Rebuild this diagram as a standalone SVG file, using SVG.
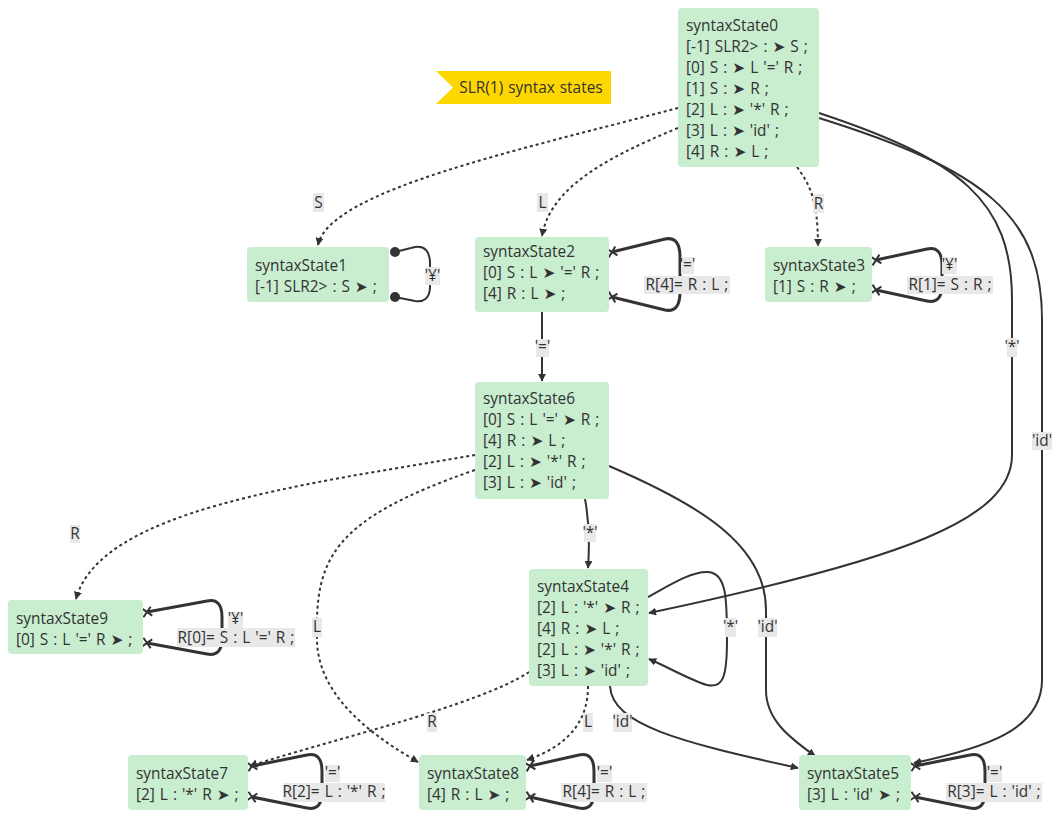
<svg xmlns="http://www.w3.org/2000/svg" width="1059" height="819" viewBox="0 0 1059 819">
<style>
text{font-family:"Open Sans","Noto Sans","DejaVu Sans",sans-serif;font-size:15.4px;word-spacing:1px;fill:#333}
.node rect{fill:#c8edcf;stroke:none}
.e{fill:none;stroke:#333;stroke-width:2}
.d{fill:none;stroke:#333;stroke-width:2;stroke-dasharray:3 3}
.loop{fill:none;stroke:#333;stroke-width:3}
.lb{fill:#e8e8e8}
.lt{text-anchor:middle}
</style>
<defs>
<marker id="arrow" viewBox="0 0 10 10" refX="9" refY="5" markerWidth="8" markerHeight="8" markerUnits="userSpaceOnUse" orient="auto"><path d="M0,0 L10,5 L0,10 z" fill="#333"/></marker>
<marker id="cross" viewBox="0 0 11 11" refX="5.5" refY="5.5" markerWidth="11" markerHeight="11" markerUnits="userSpaceOnUse" orient="auto"><path d="M1,1 L10,10 M10,1 L1,10" stroke="#333" stroke-width="2" fill="none"/></marker>
</defs>
<rect width="1059" height="819" fill="#fff"/>

<g id="title">
<polygon points="436,71 611,71 611,104 436,104 453,87.5" fill="#ffd700"/>
<text x="531" y="93" class="lt">SLR(1) syntax states</text>
</g>

<g id="connectors">
<path class="d" d="M678,108 C520,150 330,190 318,245" marker-end="url(#arrow)"/>
<path class="d" d="M678,128 C600,160 550,190 542,236" marker-end="url(#arrow)"/>
<path class="d" d="M797,167 C810,185 818,200 818,246" marker-end="url(#arrow)"/>
<path class="e" d="M819,113 C960,160 1012,200 1012,300 L1012,455 C1012,520 900,560 649,613" marker-end="url(#arrow)"/>
<path class="e" d="M819,118 C985,170 1042,215 1042,320 L1042,680 C1042,730 985,748 914,763" marker-end="url(#arrow)"/>
<path class="e" d="M542,312 L542,381" marker-end="url(#arrow)"/>
<path class="e" d="M585,499 C589,520 590,540 588,568" marker-end="url(#arrow)"/>
<path class="e" d="M609,466 C700,505 766,545 766,610 L766,690 C766,720 790,738 815,756" marker-end="url(#arrow)"/>
<path class="e" d="M610,686 C612,725 680,742 798,768" marker-end="url(#arrow)"/>
<path class="e" d="M648,597 C670,585 690,572 707,572 C727,572 727,600 727,640 C727,680 722,688 707,685 C690,680 670,668 649,659" marker-end="url(#arrow)"/>
<path class="d" d="M475,455 C300,485 100,510 76,599" marker-end="url(#arrow)"/>
<path class="d" d="M475,470 C330,520 315,560 317,640 C318,700 380,740 418,762" marker-end="url(#arrow)"/>
<path class="d" d="M529,672 C480,705 330,740 250,766" marker-end="url(#arrow)"/>
<path class="d" d="M588,686 C588,720 570,745 527,760" marker-end="url(#arrow)"/>
<path class="loop" style="stroke-width:2" d="M395,252 L415,247 Q429,245 430,262 L430,288 Q429,303 415,301 L395,297"/>
<circle cx="395" cy="252" r="5" fill="#333"/>
<circle cx="395" cy="297" r="5" fill="#333"/>
<path class="loop" d="M612,252 L665,239 Q680,236 680,257 L680,292 Q680,313 665,310 L612,297" marker-start="url(#cross)" marker-end="url(#cross)"/>
<path class="loop" d="M876,260 L927,249 Q942,246 942,265 L942,285 Q942,304 927,301 L876,290" marker-start="url(#cross)" marker-end="url(#cross)"/>
<path class="loop" d="M147,612 L207,601 Q222,598 222,617 L222,638 Q222,657 207,654 L147,643" marker-start="url(#cross)" marker-end="url(#cross)"/>
<path class="loop" d="M252,766 L307,755 Q322,752 322,771 L322,792 Q322,811 307,808 L252,797" marker-start="url(#cross)" marker-end="url(#cross)"/>
<path class="loop" d="M530,766 L579,755 Q594,752 594,771 L594,792 Q594,811 579,808 L530,797" marker-start="url(#cross)" marker-end="url(#cross)"/>
<path class="loop" d="M915,766 L970,755 Q985,752 985,771 L985,792 Q985,811 970,808 L915,797" marker-start="url(#cross)" marker-end="url(#cross)"/>
</g>

<g id="edge-labels">
<rect class="lb" x="313" y="193" width="11" height="19"/><text class="lt" x="318.5" y="208">S</text>
<rect class="lb" x="537" y="193" width="11" height="19"/><text class="lt" x="542.5" y="208">L</text>
<rect class="lb" x="813" y="194" width="11" height="19"/><text class="lt" x="818.5" y="209">R</text>
<rect class="lb" x="425" y="267" width="15" height="18"/><text class="lt" x="432.5" y="281">'¥'</text>
<rect class="lb" x="681" y="257" width="13" height="17"/><text class="lt" x="687.5" y="270">'='</text>
<rect class="lb" x="644" y="276" width="86" height="18"/><text class="lt" x="687" y="290">R[4]= R : L ;</text>
<rect class="lb" x="942" y="257" width="15" height="17"/><text class="lt" x="949.5" y="270">'¥'</text>
<rect class="lb" x="907" y="276" width="86" height="18"/><text class="lt" x="950" y="290">R[1]= S : R ;</text>
<rect class="lb" x="536" y="339" width="13" height="18"/><text class="lt" x="542.5" y="352">'='</text>
<rect class="lb" x="1007" y="338" width="10" height="19"/><text class="lt" x="1012" y="352">'*'</text>
<rect class="lb" x="1032" y="432" width="20" height="18"/><text class="lt" x="1042" y="446">'id'</text>
<rect class="lb" x="70" y="525" width="10" height="18"/><text class="lt" x="75" y="539">R</text>
<rect class="lb" x="584" y="524" width="12" height="18"/><text class="lt" x="590" y="538">'*'</text>
<rect class="lb" x="312" y="618" width="10" height="19"/><text class="lt" x="317" y="632">L</text>
<rect class="lb" x="725" y="618" width="11" height="19"/><text class="lt" x="730.5" y="632">'*'</text>
<rect class="lb" x="758" y="618" width="19" height="19"/><text class="lt" x="767.5" y="632">'id'</text>
<rect class="lb" x="228" y="612" width="15" height="16"/><text class="lt" x="235.5" y="624">'¥'</text>
<rect class="lb" x="177" y="628" width="118" height="19"/><text class="lt" x="236" y="643">R[0]= S : L '=' R ;</text>
<rect class="lb" x="427" y="713" width="10" height="19"/><text class="lt" x="432" y="727">R</text>
<rect class="lb" x="583" y="713" width="10" height="19"/><text class="lt" x="588" y="727">L</text>
<rect class="lb" x="613" y="713" width="19" height="19"/><text class="lt" x="622.5" y="727">'id'</text>
<rect class="lb" x="325" y="765" width="15" height="17"/><text class="lt" x="332.5" y="778">'='</text>
<rect class="lb" x="283" y="783" width="102" height="19"/><text class="lt" x="334" y="797">R[2]= L : '*' R ;</text>
<rect class="lb" x="597" y="765" width="15" height="17"/><text class="lt" x="604.5" y="778">'='</text>
<rect class="lb" x="561" y="783" width="86" height="19"/><text class="lt" x="604" y="797">R[4]= R : L ;</text>
<rect class="lb" x="987" y="765" width="15" height="17"/><text class="lt" x="994.5" y="778">'='</text>
<rect class="lb" x="946" y="783" width="96" height="19"/><text class="lt" x="994" y="797">R[3]= L : 'id' ;</text>
</g>

<g id="syntaxState0" class="node"><rect x="678" y="8" width="141" height="159" rx="4"/>
<text x="686" y="31">syntaxState0</text><text x="686" y="52">[-1] SLR2&gt; : ➤ S ;</text><text x="686" y="73">[0] S : ➤ L '=' R ;</text><text x="686" y="94">[1] S : ➤ R ;</text><text x="686" y="115">[2] L : ➤ '*' R ;</text><text x="686" y="136">[3] L : ➤ 'id' ;</text><text x="686" y="157">[4] R : ➤ L ;</text></g>
<g id="syntaxState1" class="node"><rect x="247" y="247" width="142" height="55" rx="4"/>
<text x="255" y="271">syntaxState1</text><text x="255" y="292">[-1] SLR2&gt; : S ➤ ;</text></g>
<g id="syntaxState2" class="node"><rect x="475" y="237" width="134" height="75" rx="4"/>
<text x="483" y="257">syntaxState2</text><text x="483" y="278">[0] S : L ➤ '=' R ;</text><text x="483" y="299">[4] R : L ➤ ;</text></g>
<g id="syntaxState3" class="node"><rect x="765" y="247" width="107" height="55" rx="4"/>
<text x="773" y="271">syntaxState3</text><text x="773" y="292">[1] S : R ➤ ;</text></g>
<g id="syntaxState6" class="node"><rect x="475" y="382" width="134" height="117" rx="4"/>
<text x="483" y="404">syntaxState6</text><text x="483" y="425">[0] S : L '=' ➤ R ;</text><text x="483" y="446">[4] R : ➤ L ;</text><text x="483" y="467">[2] L : ➤ '*' R ;</text><text x="483" y="488">[3] L : ➤ 'id' ;</text></g>
<g id="syntaxState9" class="node"><rect x="8" y="600" width="135" height="54" rx="4"/>
<text x="16" y="624">syntaxState9</text><text x="16" y="645">[0] S : L '=' R ➤ ;</text></g>
<g id="syntaxState4" class="node"><rect x="529" y="569" width="119" height="117" rx="4"/>
<text x="537" y="592">syntaxState4</text><text x="537" y="613">[2] L : '*' ➤ R ;</text><text x="537" y="634">[4] R : ➤ L ;</text><text x="537" y="655">[2] L : ➤ '*' R ;</text><text x="537" y="676">[3] L : ➤ 'id' ;</text></g>
<g id="syntaxState7" class="node"><rect x="128" y="755" width="120" height="55" rx="4"/>
<text x="136" y="779">syntaxState7</text><text x="136" y="800">[2] L : '*' R ➤ ;</text></g>
<g id="syntaxState8" class="node"><rect x="419" y="755" width="107" height="55" rx="4"/>
<text x="427" y="779">syntaxState8</text><text x="427" y="800">[4] R : L ➤ ;</text></g>
<g id="syntaxState5" class="node"><rect x="799" y="755" width="112" height="55" rx="4"/>
<text x="807" y="779">syntaxState5</text><text x="807" y="800">[3] L : 'id' ➤ ;</text></g>
</svg>
